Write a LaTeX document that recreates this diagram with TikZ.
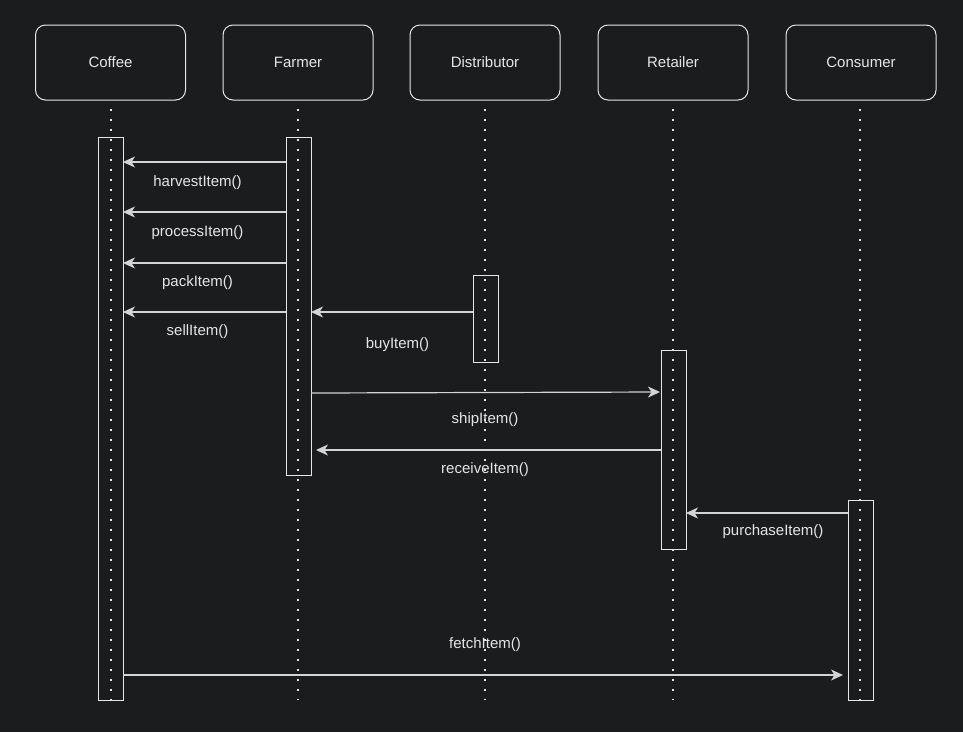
\documentclass[tikz,border=0pt]{standalone}
\usepackage{fontspec}
\setmainfont{Liberation Sans}
\usetikzlibrary{arrows.meta}
\definecolor{bg}{HTML}{1B1C1E}
\definecolor{ink}{HTML}{E6E6E6}
\definecolor{wire}{HTML}{D4D4D4}
\begin{document}
\begin{tikzpicture}[x=1pt,y=-1pt,
  every node/.style={text=ink,font=\fontsize{15}{18}\selectfont},
  actor/.style={draw=ink,line width=1pt,rounded corners=10pt,minimum width=150pt,minimum height=75pt,inner sep=0pt},
  lifeline/.style={draw=ink,line width=2pt,dash pattern=on 2pt off 8pt},
  activation/.style={draw=ink,line width=1pt,minimum width=25pt,inner sep=0pt},
  msg/.style={draw=wire,line width=1.2pt,-{Stealth[length=12pt,width=11pt,inset=3.5pt,fill=wire]}},
  lbl/.style={inner sep=0pt}]
\fill[bg] (0,0) rectangle (963,732);
\useasboundingbox (0,0) rectangle (963,732);

% participants
\node[actor] (coffee) at (110.5,62.5) {Coffee};
\node[actor] (farmer) at (298,62.5) {Farmer};
\node[actor] (dist) at (485,62.5) {Distributor};
\node[actor] (ret) at (673,62.5) {Retailer};
\node[actor] (cons) at (861,62.5) {Consumer};

% lifelines
\foreach \n/\x in {coffee/110.5,farmer/297.5,dist/485,ret/672.5,cons/860} {
  \coordinate (\n-end) at (\x,700);
  \draw[lifeline] (\x,109) -- (\n-end);
}

% activation bars
\draw[activation] (98,137) rectangle (123,700);
\draw[activation] (286,137) rectangle (311,475);
\draw[activation] (473,275) rectangle (498,362);
\draw[activation] (661,350) rectangle (686,549);
\draw[activation] (848,500) rectangle (873,700);

% message endpoints
\coordinate (c1) at (123,162);  \coordinate (f1) at (286,162);
\coordinate (c2) at (123,212);  \coordinate (f2) at (286,212);
\coordinate (c3) at (123,263);  \coordinate (f3) at (286,263);
\coordinate (c4) at (123,312);  \coordinate (f4) at (286,312);
\coordinate (f5) at (311,312);  \coordinate (d5) at (473,312);
\coordinate (f6) at (311,393);  \coordinate (r6) at (660,392);
\coordinate (f7) at (316,450);  \coordinate (r7) at (661,450);
\coordinate (r8) at (686,513);  \coordinate (s8) at (848,513);
\coordinate (c9) at (123,675);  \coordinate (s9) at (843,675);

% messages
\draw[msg] (f1) -- (c1);
\node[lbl] (l1) at (197.5,183) {harvestItem()};
\draw[msg] (f2) -- (c2);
\node[lbl] (l2) at (197.5,233) {processItem()};
\draw[msg] (f3) -- (c3);
\node[lbl] (l3) at (197.5,283) {packItem()};
\draw[msg] (f4) -- (c4);
\node[lbl] (l4) at (197.5,332) {sellItem()};
\draw[msg] (d5) -- (f5);
\node[lbl] (l5) at (397.5,345) {buyItem()};
\draw[msg] (f6) -- (r6);
\node[lbl] (l6) at (485,420) {shipItem()};
\draw[msg] (r7) -- (f7);
\node[lbl] (l7) at (485,470) {receiveItem()};
\draw[msg] (s8) -- (r8);
\node[lbl] (l8) at (773,532) {purchaseItem()};
\draw[msg] (c9) -- (s9);
\node[lbl] (l9) at (485,645) {fetchItem()};
\end{tikzpicture}
\end{document}
